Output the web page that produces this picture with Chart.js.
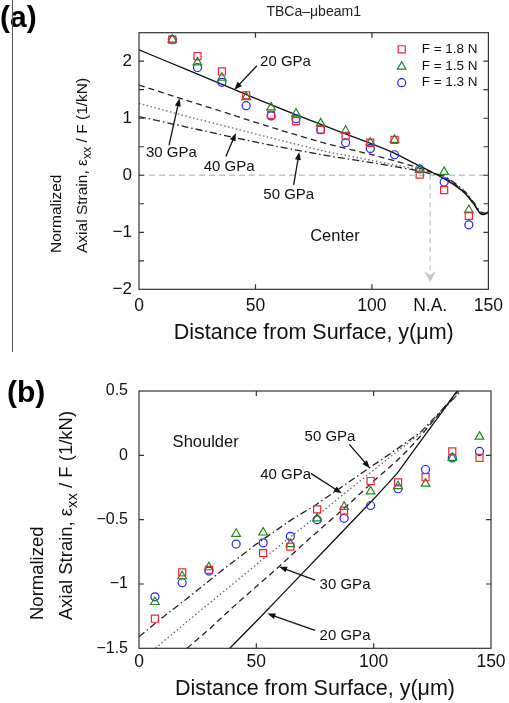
<!DOCTYPE html>
<html><head><meta charset="utf-8">
<script src="https://cdn.jsdelivr.net/npm/chart.js@4.4.1/dist/chart.umd.min.js"></script>
<style>
html,body{margin:0;padding:0;background:#fff;}
#wrap{position:relative;width:509px;height:703px;overflow:hidden;background:#fff;}
#ca{position:absolute;left:0;top:0;}
#cb{position:absolute;left:0;top:360px;}
</style></head><body>
<div id="wrap"><canvas id="ca" width="509" height="360"></canvas><canvas id="cb" width="509" height="343"></canvas></div>
<script>
// ---------------- DATA: panel (a) Center ----------------
const xA = [14.3,25.1,35.6,46,56.7,67.4,78,88.7,99.3,109.7,120.5,131,141.6];
const centerF18 = [2.38,2.09,1.82,1.40,1.06,0.95,0.80,0.69,0.57,0.62,0.01,-0.26,-0.71];
const centerF15 = [2.38,1.98,1.71,1.37,1.19,1.08,0.91,0.78,0.57,0.62,0.10,0.06,-0.61];
const centerF13 = [2.38,1.89,1.63,1.22,1.04,0.99,0.80,0.57,0.47,0.36,0.11,-0.12,-0.87];
const modelXA = [0,20,40,60,80,100,110,120,125,130,135,140,144,146.5,148,150];
const centerE20 = [2.20,1.86,1.52,1.18,0.86,0.55,0.38,0.17,0.07,-0.04,-0.16,-0.32,-0.52,-0.67,-0.69,-0.64];
const centerE30 = [1.58,1.32,1.06,0.80,0.56,0.36,0.25,0.13,0.06,-0.02,-0.14,-0.31,-0.52,-0.66,-0.68,-0.66];
const centerE40 = [1.26,1.04,0.83,0.62,0.42,0.26,0.18,0.10,0.05,-0.01,-0.13,-0.30,-0.50,-0.65,-0.67,-0.67];
const centerE50 = [1.03,0.85,0.67,0.50,0.35,0.22,0.15,0.08,0.03,0.00,-0.12,-0.29,-0.49,-0.64,-0.66,-0.68];
const xTickValsA = [0,50,100,125,150];
const xTickLabelsA = ['0','50','100','N.A.','150'];
const yTickValsA = [-2,-1,0,1,2];
const yTickLabelsA = ['\u22122','\u22121','0','1','2'];

// ---------------- DATA: panel (b) Shoulder ----------------
const xB = [6.8,18.4,29.8,41.4,52.9,64.5,75.9,87.4,98.7,110.4,122.1,133.5,145.1];
const shoulderF18 = [-1.27,-0.91,-0.89,null,-0.76,-0.71,-0.42,-0.43,-0.20,-0.21,-0.17,0.03,-0.02];
const shoulderF15 = [-1.14,-0.94,-0.87,-0.61,-0.60,-0.69,-0.49,-0.40,-0.28,-0.24,-0.22,-0.02,0.145];
const shoulderF13 = [-1.10,-0.99,-0.90,-0.69,-0.68,-0.63,-0.50,-0.49,-0.39,-0.26,-0.11,-0.02,0.03];
const shoulderE20x = [38.7,50,60,70,80,90,100,110,120,130,135.5];
const shoulderE20 = [-1.5,-1.29,-1.10,-0.91,-0.72,-0.53,-0.34,-0.14,0.11,0.36,0.5];
const shoulderE30x = [20.5,30,40,50,60,70,80,90,100,110,115,120,125,130,137];
const shoulderE30 = [-1.5,-1.35,-1.18,-1.02,-0.86,-0.69,-0.53,-0.37,-0.20,-0.04,0.05,0.15,0.26,0.37,0.52];
const shoulderE40x = [7,20,40,60,76.6,90,110,120,130,138];
const shoulderE40 = [-1.5,-1.30,-1.00,-0.70,-0.46,-0.26,0.03,0.17,0.36,0.52];
const shoulderE50x = [0,10,20,35,50,65,75,90,110,120,130,139];
const shoulderE50 = [-1.41,-1.26,-1.12,-0.90,-0.69,-0.50,-0.39,-0.20,0.05,0.18,0.37,0.53];
const xTickValsB = [0,50,100,150];
const xTickLabelsB = ['0','50','100','150'];
const yTickValsB = [-1.5,-1,-0.5,0,0.5];
const yTickLabelsB = ['\u22121.5','\u22121','\u22120.5','0','0.5'];

const seriesLabels = ['F = 1.8 N','F = 1.5 N','F = 1.3 N'];
const modelLabels = ['20 GPa','30 GPa','40 GPa','50 GPa'];

// ---------------- STYLE ----------------
const FONT = '"Liberation Sans", Arial, Helvetica, sans-serif';
Chart.defaults.font.family = FONT;
Chart.defaults.color = '#111';
const markerStyles = [
  {pointStyle:'rect', pointRadius:5, borderColor:'#e8283c'},
  {pointStyle:'triangle', pointRadius:5, borderColor:'#1e8c1e'},
  {pointStyle:'circle', pointRadius:4, borderColor:'#2323e6'}
];
const lineStyles = [
  {borderColor:'#111', borderDash:[]},
  {borderColor:'#222', borderDash:[6,4]},
  {borderColor:'#666', borderDash:[1.5,2.5]},
  {borderColor:'#222', borderDash:[7,3,1.5,3]}
];

const pts = (xs, ys) => xs.map((x,i) => ({x, y: ys[i]}));

function markerSets(ysList) {
  return ysList.map((ys, i) => ({
    label: seriesLabels[i], data: pts(ys.xs, ys.ys), showLine:false,
    pointStyle: markerStyles[i].pointStyle, pointRadius: markerStyles[i].pointRadius,
    pointBorderColor: markerStyles[i].borderColor, borderColor: markerStyles[i].borderColor,
    pointBackgroundColor:'rgba(0,0,0,0)', backgroundColor:'rgba(0,0,0,0)',
    pointBorderWidth:1.2, pointHoverRadius:0, isMarker:true
  }));
}
function lineSets(list, tension) {
  return list.map((l, i) => ({
    label: modelLabels[i], data: pts(l.xs, l.ys), showLine:true, pointRadius:0,
    borderColor: lineStyles[i].borderColor, borderDash: lineStyles[i].borderDash,
    borderWidth:1.3, tension:tension, fill:false
  }));
}

function arrow(ctx, x1, y1, x2, y2, color) {
  ctx.strokeStyle = color; ctx.fillStyle = color; ctx.lineWidth = 1.3; ctx.setLineDash([]);
  const a = Math.atan2(y2 - y1, x2 - x1), head = 8, w = 3;
  ctx.beginPath(); ctx.moveTo(x1, y1); ctx.lineTo(x2 - (head-2)*Math.cos(a), y2 - (head-2)*Math.sin(a)); ctx.stroke();
  ctx.beginPath(); ctx.moveTo(x2, y2);
  ctx.lineTo(x2 - head*Math.cos(a) + w*Math.sin(a), y2 - head*Math.sin(a) - w*Math.cos(a));
  ctx.lineTo(x2 - head*Math.cos(a) - w*Math.sin(a), y2 - head*Math.sin(a) + w*Math.cos(a));
  ctx.closePath(); ctx.fill();
}

const decor = {
  id: 'decor',
  beforeDatasetsDraw(chart, args, o) {
    const {ctx, chartArea: ca, scales: {x: xs, y: ys}} = chart;
    ctx.save();
    if (o.zeroLine) {
      ctx.strokeStyle = '#c4c4c4'; ctx.lineWidth = 1.3; ctx.setLineDash([6,4]);
      const y0 = ys.getPixelForValue(0);
      ctx.beginPath(); ctx.moveTo(ca.left, y0); ctx.lineTo(ca.right, y0); ctx.stroke();
    }
    if (o.naArrow) {
      const px = xs.getPixelForValue(o.naArrow.x);
      const pa = ys.getPixelForValue(o.naArrow.y0), pb = ys.getPixelForValue(o.naArrow.y1);
      ctx.strokeStyle = '#c4c4c4'; ctx.lineWidth = 1.3; ctx.setLineDash([5,4]);
      ctx.beginPath(); ctx.moveTo(px, pa); ctx.lineTo(px, pb - 9); ctx.stroke();
      ctx.setLineDash([]); ctx.fillStyle = '#c8c8c8';
      ctx.beginPath(); ctx.moveTo(px, pb); ctx.lineTo(px - 6, pb - 11); ctx.lineTo(px, pb - 7); ctx.lineTo(px + 6, pb - 11); ctx.closePath(); ctx.fill();
    }
    ctx.restore();
  },
  afterDraw(chart, args, o) {
    const {ctx, chartArea: ca, scales: {x: xs, y: ys}} = chart;
    ctx.save();
    // box
    ctx.strokeStyle = '#333'; ctx.lineWidth = 1.2; ctx.setLineDash([]);
    ctx.strokeRect(ca.left, ca.top, ca.right - ca.left, ca.bottom - ca.top);
    // inward ticks
    const TL = 5;
    ctx.beginPath();
    xs.ticks.forEach(t => {
      const v = t.value; if (v <= xs.min || v >= xs.max || v % 50 !== 0) return;
      const p = xs.getPixelForValue(v);
      ctx.moveTo(p, ca.bottom); ctx.lineTo(p, ca.bottom - TL);
      ctx.moveTo(p, ca.top); ctx.lineTo(p, ca.top + TL);
    });
    ys.ticks.forEach(t => {
      const v = t.value; if (v <= ys.min || v >= ys.max) return;
      const p = ys.getPixelForValue(v);
      ctx.moveTo(ca.left, p); ctx.lineTo(ca.left + TL, p);
      ctx.moveTo(ca.right, p); ctx.lineTo(ca.right - TL, p);
    });
    ctx.stroke();
    // annotations
    (o.notes || []).forEach(n => {
      if (n.ax) arrow(ctx, xs.getPixelForValue(n.ax[0]), ys.getPixelForValue(n.ax[1]),
                      xs.getPixelForValue(n.ax[2]), ys.getPixelForValue(n.ax[3]), '#111');
      ctx.fillStyle = '#111'; ctx.font = `${n.size}px ${FONT}`;
      ctx.textAlign = 'center'; ctx.textBaseline = 'middle';
      ctx.fillText(n.t, xs.getPixelForValue(n.x), ys.getPixelForValue(n.y));
    });
    // legend
    if (o.legend) {
      const L = o.legend;
      let k = 0;
      chart.data.datasets.forEach(ds => {
        if (!ds.isMarker) return;
        const y = L.ys[k++];
        ctx.strokeStyle = ds.pointBorderColor; ctx.fillStyle = 'rgba(0,0,0,0)';
        ctx.lineWidth = ds.pointBorderWidth; ctx.setLineDash([]);
        Chart.helpers.drawPoint(ctx, {pointStyle: ds.pointStyle, radius: ds.pointRadius, rotation: 0, borderWidth: ds.pointBorderWidth}, L.x, y);
        ctx.fillStyle = '#111'; ctx.font = `${L.size}px ${FONT}`;
        ctx.textAlign = 'left'; ctx.textBaseline = 'middle';
        ctx.fillText(ds.label, L.tx, y);
      });
    }
    // top title
    if (o.title) {
      ctx.fillStyle = '#222'; ctx.font = `${o.title.size}px ${FONT}`;
      ctx.textAlign = 'center'; ctx.textBaseline = 'middle';
      ctx.fillText(o.title.text, (ca.left + ca.right) / 2, o.title.y);
    }
    // panel label
    if (o.panel) {
      ctx.fillStyle = '#000'; ctx.font = `bold ${o.panel.size}px ${FONT}`;
      ctx.textAlign = 'left'; ctx.textBaseline = 'middle';
      ctx.fillText(o.panel.text, o.panel.x, o.panel.y);
    }
    // y title (two lines, with subscript)
    if (o.yTitle) {
      const yt = o.yTitle;
      ctx.fillStyle = '#111'; ctx.textAlign = 'left'; ctx.textBaseline = 'middle';
      ctx.save(); ctx.translate(yt.x1, yt.yStart); ctx.rotate(-Math.PI / 2);
      ctx.font = `${yt.size}px ${FONT}`; ctx.fillText(yt.line1, 0, 0); ctx.restore();
      ctx.save(); ctx.translate(yt.x2, yt.yStart); ctx.rotate(-Math.PI / 2);
      let cx = 0;
      yt.line2.forEach(seg => {
        ctx.font = `${seg.sub ? yt.size * 0.8 : yt.size}px ${FONT}`;
        ctx.fillText(seg.t, cx, seg.sub ? yt.size * 0.32 : 0);
        cx += ctx.measureText(seg.t).width;
      });
      ctx.restore();
    }
    if (o.leftRule) {
      ctx.strokeStyle = '#555'; ctx.lineWidth = 1;
      ctx.beginPath(); ctx.moveTo(o.leftRule.x, o.leftRule.y0); ctx.lineTo(o.leftRule.x, o.leftRule.y1); ctx.stroke();
    }
    ctx.restore();
  }
};

const yTitleLine2 = [{t:'Axial Strain, \u03b5'},{t:'xx', sub:true},{t:' / F (1/kN)'}];

function makeScales(cfg) {
  return {
    x: {
      type:'linear', min:0, max:150,
      afterBuildTicks: s => { s.ticks = cfg.xVals.map(v => ({value:v})); },
      afterFit: s => { s.height = cfg.xHeight; },
      ticks: {autoSkip:false, maxRotation:0, padding:cfg.xPad, font:{size:17.5}, color:'#111',
              callback: v => { const i = cfg.xVals.indexOf(v); return i >= 0 ? cfg.xLabels[i] : ''; }},
      grid: {display:false, drawTicks:false}, border: {display:false},
      title: {display:true, text:'Distance from Surface, y(\u03bcm)', font:{size:21.5}, color:'#111',
              padding:{top:0, bottom:cfg.titlePad}}
    },
    y: {
      type:'linear', min:cfg.yMin, max:cfg.yMax,
      afterFit: s => { s.width = 139; },
      ticks: {stepSize:0.5, autoSkip:false, padding:cfg.yPad, font:{size:cfg.yFont}, color:'#111',
              callback: v => { const i = cfg.yVals.findIndex(u => Math.abs(u - v) < 1e-9); return i >= 0 ? cfg.yLabels[i] : ''; }},
      grid: {display:false, drawTicks:false}, border: {display:false}
    }
  };
}

// ---------------- CHART (a) ----------------
new Chart(document.getElementById('ca'), {
  type:'scatter',
  data: {datasets: [
    ...markerSets([{xs:xA, ys:centerF18},{xs:xA, ys:centerF15},{xs:xA, ys:centerF13}]),
    ...lineSets([{xs:modelXA, ys:centerE20},{xs:modelXA, ys:centerE30},{xs:modelXA, ys:centerE40},{xs:modelXA, ys:centerE50}], 0.25)
  ]},
  options: {
    responsive:false, animation:false, events:[],
    layout: {padding:{left:0, top:32.7, right:17.3, bottom:0}},
    scales: makeScales({xVals:xTickValsA, xLabels:xTickLabelsA, xHeight:70.7, xPad:6, titlePad:14,
                        yMin:-2, yMax:2.5, yVals:yTickValsA, yLabels:yTickLabelsA, yPad:7, yFont:17}),
    plugins: {
      legend:{display:false}, tooltip:{enabled:false},
      decor: {
        zeroLine:true, naArrow:{x:125, y0:0, y1:-1.87},
        title:{text:'TBCa\u2013\u03bcbeam1', size:14, y:12},
        panel:{text:'(a)', size:30, x:0, y:19},
        yTitle:{size:15.5, x1:57, x2:83, yStart:253, line1:'Normalized', line2:yTitleLine2},
        legend:{x:401.7, ys:[49.3,66.7,82.7], tx:421.7, size:13.5},
        leftRule:{x:12.5, y0:0, y1:352},
        notes:[
          {t:'20 GPa', x:62.9, y:1.99, size:15, ax:[50.6,1.92,40.9,1.50]},
          {t:'30 GPa', x:13.9, y:0.385, size:15, ax:[12.9,0.53,17.4,1.35]},
          {t:'40 GPa', x:38.7, y:0.14, size:15, ax:[37.3,0.33,41.6,0.74]},
          {t:'50 GPa', x:64.3, y:-0.35, size:15, ax:[66.4,-0.17,68.8,0.41]},
          {t:'Center', x:84.1, y:-1.08, size:16.5}
        ]
      }
    }
  },
  plugins:[decor]
});

// ---------------- CHART (b) ----------------
new Chart(document.getElementById('cb'), {
  type:'scatter',
  data: {datasets: [
    ...markerSets([{xs:xB, ys:shoulderF18},{xs:xB, ys:shoulderF15},{xs:xB, ys:shoulderF13}]),
    ...lineSets([{xs:shoulderE20x, ys:shoulderE20},{xs:shoulderE30x, ys:shoulderE30},{xs:shoulderE40x, ys:shoulderE40},{xs:shoulderE50x, ys:shoulderE50}], 0)
  ]},
  options: {
    responsive:false, animation:false, events:[],
    layout: {padding:{left:0, top:31, right:18, bottom:0}},
    scales: makeScales({xVals:xTickValsB, xLabels:xTickLabelsB, xHeight:54.7, xPad:3, titlePad:1,
                        yMin:-1.5, yMax:0.5, yVals:yTickValsB, yLabels:yTickLabelsB, yPad:11, yFont:16}),
    plugins: {
      legend:{display:false}, tooltip:{enabled:false},
      decor: {
        panel:{text:'(b)', size:30, x:7, y:33.5},
        yTitle:{size:18.5, x1:38, x2:67, yStart:260, line1:'Normalized', line2:yTitleLine2},
        notes:[
          {t:'Shoulder', x:28.4, y:0.10, size:16.5},
          {t:'50 GPa', x:81.4, y:0.145, size:15, ax:[89.6,0.085,98.4,-0.10]},
          {t:'40 GPa', x:62.5, y:-0.153, size:15, ax:[73.2,-0.14,86.4,-0.295]},
          {t:'30 GPa', x:87.8, y:-1.01, size:15, ax:[75,-0.97,59.7,-0.866]},
          {t:'20 GPa', x:87.8, y:-1.40, size:15, ax:[75,-1.36,54.7,-1.23]}
        ]
      }
    }
  },
  plugins:[decor]
});
</script></body></html>
